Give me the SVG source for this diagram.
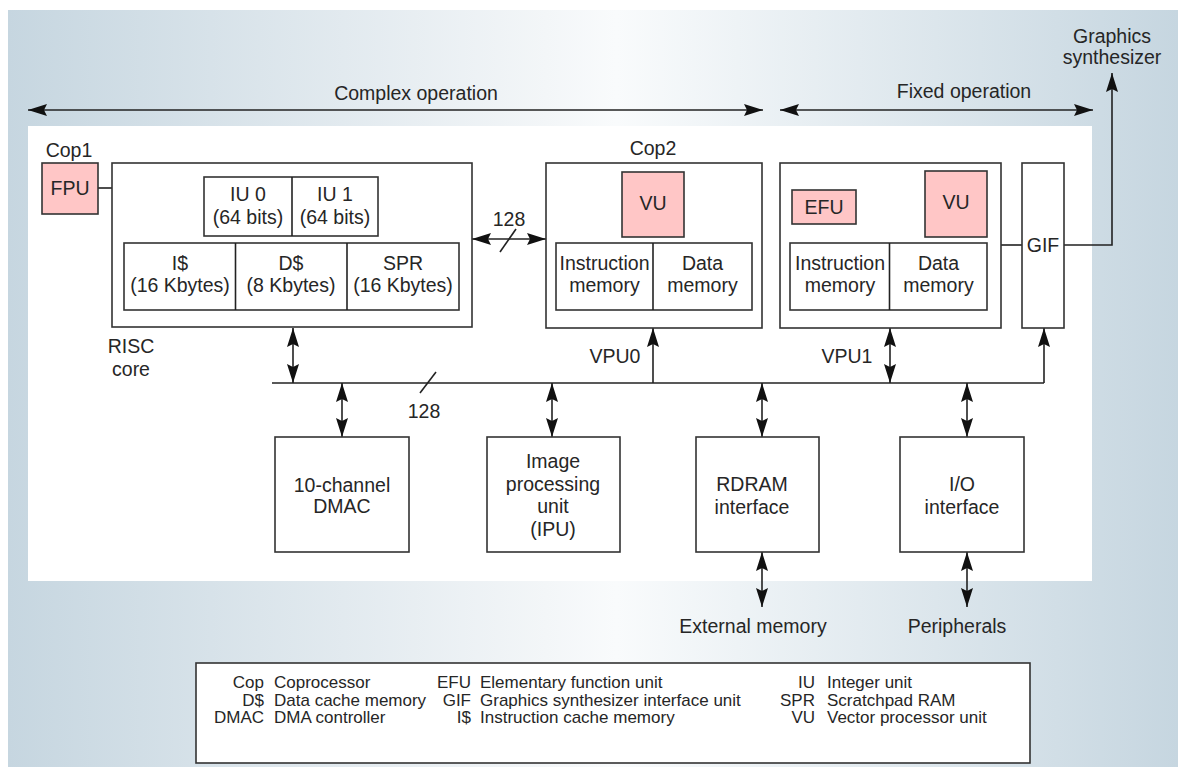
<svg xmlns="http://www.w3.org/2000/svg" width="1178" height="769" viewBox="0 0 1178 769">
<defs>
<linearGradient id="bg" x1="0" y1="0" x2="1" y2="0">
<stop offset="0" stop-color="#c6d6e0"/>
<stop offset="0.46" stop-color="#f3f6f8"/>
<stop offset="0.52" stop-color="#f9fbfc"/>
<stop offset="1" stop-color="#c6d6e0"/>
</linearGradient>
<marker id="ah" viewBox="-21 -7 23 14" refX="0" refY="0" markerWidth="23" markerHeight="14" markerUnits="userSpaceOnUse" orient="auto-start-reverse">
<path d="M0,0 L-19,-6 L-16,0 L-19,6 Z" fill="#111"/>
</marker>
</defs>
<style>
text{font-family:"Liberation Sans",Arial,sans-serif;font-size:19.5px;fill:#262626;}
.c{text-anchor:middle;}
.lg{font-size:17px;}
.r{text-anchor:end;}
.box{fill:#fff;stroke:#333;stroke-width:1.6;}
.pink{fill:#ffc6c6;stroke:#333;stroke-width:1.6;}
.ln{fill:none;stroke:#222;stroke-width:1.6;}
.a2{fill:none;stroke:#222;stroke-width:1.6;marker-start:url(#ah);marker-end:url(#ah);}
.a1{fill:none;stroke:#222;stroke-width:1.6;marker-end:url(#ah);}
</style>
<rect x="0" y="0" width="1178" height="769" fill="#fff"/>
<rect x="8" y="10" width="1170" height="757" fill="url(#bg)"/>
<rect x="28" y="126" width="1064" height="455" fill="#fff"/>

<g id="connectors">
<line class="a2" x1="28" y1="110" x2="763" y2="110"/>
<line class="a2" x1="780" y1="110" x2="1093" y2="110"/>
<polyline class="a1" points="1064,245 1112,245 1112,73"/>
<line class="ln" x1="98" y1="188" x2="112" y2="188"/>
<line class="a2" x1="472" y1="239" x2="546" y2="239"/>
<line class="ln" x1="516" y1="229" x2="500" y2="252"/>
<line class="ln" x1="1001" y1="245" x2="1022" y2="245"/>
<line class="ln" x1="272" y1="383" x2="1044" y2="383"/>
<line class="ln" x1="436" y1="372" x2="420" y2="393"/>
<line class="a2" x1="293" y1="328" x2="293" y2="383"/>
<line class="a1" x1="653" y1="383" x2="653" y2="328"/>
<line class="a2" x1="890" y1="328" x2="890" y2="383"/>
<line class="a1" x1="1044" y1="383" x2="1044" y2="328"/>
<line class="a2" x1="342" y1="383" x2="342" y2="437"/>
<line class="a2" x1="552" y1="383" x2="552" y2="437"/>
<line class="a2" x1="762" y1="383" x2="762" y2="437"/>
<line class="a2" x1="967" y1="383" x2="967" y2="437"/>
<line class="a2" x1="762" y1="552" x2="762" y2="607"/>
<line class="a2" x1="967" y1="552" x2="967" y2="607"/>
</g>

<g id="labels">
<text class="c" x="416" y="100">Complex operation</text>
<text class="c" x="964" y="98">Fixed operation</text>
<text class="c" x="1112" y="43">Graphics</text>
<text class="c" x="1112" y="64">synthesizer</text>
<text class="c" x="69" y="157">Cop1</text>
<text class="c" x="653" y="155">Cop2</text>
<text class="c" x="131" y="353">RISC</text>
<text class="c" x="131" y="376">core</text>
<text class="c" x="509" y="226">128</text>
<text class="c" x="424" y="418">128</text>
<text class="c" x="615" y="363">VPU0</text>
<text class="c" x="847" y="363">VPU1</text>
<text class="c" x="753" y="633">External memory</text>
<text class="c" x="957" y="633">Peripherals</text>
</g>

<g id="fpu">
<rect class="pink" x="42" y="163" width="56" height="51"/>
<text class="c" x="70" y="195">FPU</text>
</g>

<g id="risc">
<rect class="box" x="112" y="163" width="360" height="164"/>
<rect class="box" x="204" y="177" width="174" height="59"/>
<line class="ln" x1="292" y1="177" x2="292" y2="236"/>
<text class="c" x="248" y="201">IU 0</text>
<text class="c" x="248" y="224">(64 bits)</text>
<text class="c" x="335" y="201">IU 1</text>
<text class="c" x="335" y="224">(64 bits)</text>
<rect class="box" x="124" y="243" width="335" height="67"/>
<line class="ln" x1="235.5" y1="243" x2="235.5" y2="310"/>
<line class="ln" x1="347" y1="243" x2="347" y2="310"/>
<text class="c" x="180" y="270">I$</text>
<text class="c" x="180" y="292">(16 Kbytes)</text>
<text class="c" x="291" y="270">D$</text>
<text class="c" x="291" y="292">(8 Kbytes)</text>
<text class="c" x="403" y="270">SPR</text>
<text class="c" x="403" y="292">(16 Kbytes)</text>
</g>

<g id="vpu0">
<rect class="box" x="546" y="163" width="216" height="165"/>
<rect class="pink" x="622" y="172" width="62" height="65"/>
<text class="c" x="653" y="210">VU</text>
<rect class="box" x="556" y="243" width="196" height="67"/>
<line class="ln" x1="653" y1="243" x2="653" y2="310"/>
<text class="c" x="604.5" y="270">Instruction</text>
<text class="c" x="604.5" y="292">memory</text>
<text class="c" x="702.5" y="270">Data</text>
<text class="c" x="702.5" y="292">memory</text>
</g>

<g id="vpu1">
<rect class="box" x="780" y="163" width="221" height="165"/>
<rect class="pink" x="792" y="190" width="64" height="34"/>
<text class="c" x="824" y="214">EFU</text>
<rect class="pink" x="925" y="171" width="62" height="66"/>
<text class="c" x="956" y="209">VU</text>
<rect class="box" x="790" y="243" width="197" height="67"/>
<line class="ln" x1="889.5" y1="243" x2="889.5" y2="310"/>
<text class="c" x="840" y="270">Instruction</text>
<text class="c" x="840" y="292">memory</text>
<text class="c" x="938.5" y="270">Data</text>
<text class="c" x="938.5" y="292">memory</text>
</g>

<g id="gif">
<rect class="box" x="1022" y="163" width="42" height="165"/>
<text class="c" x="1043" y="252">GIF</text>
</g>

<g id="dmac">
<rect class="box" x="275" y="437" width="134" height="115"/>
<text class="c" x="342" y="492">10-channel</text>
<text class="c" x="342" y="513">DMAC</text>
</g>

<g id="ipu">
<rect class="box" x="487" y="437" width="133" height="115"/>
<text class="c" x="553" y="468">Image</text>
<text class="c" x="553" y="491">processing</text>
<text class="c" x="553" y="513">unit</text>
<text class="c" x="553" y="536">(IPU)</text>
</g>

<g id="rdram">
<rect class="box" x="696" y="437" width="123" height="115"/>
<text class="c" x="752" y="491">RDRAM</text>
<text class="c" x="752" y="514">interface</text>
</g>

<g id="io">
<rect class="box" x="900" y="437" width="124" height="115"/>
<text class="c" x="962" y="491">I/O</text>
<text class="c" x="962" y="514">interface</text>
</g>

<g id="legend">
<rect x="196" y="663" width="834" height="100" fill="#fff" stroke="#333" stroke-width="1.6"/>
<text class="lg r" x="264" y="688">Cop</text>
<text class="lg" x="274" y="688">Coprocessor</text>
<text class="lg r" x="264" y="706">D$</text>
<text class="lg" x="274" y="706">Data cache memory</text>
<text class="lg r" x="264" y="723">DMAC</text>
<text class="lg" x="274" y="723">DMA controller</text>
<text class="lg r" x="471" y="688">EFU</text>
<text class="lg" x="480" y="688">Elementary function unit</text>
<text class="lg r" x="471" y="706">GIF</text>
<text class="lg" x="480" y="706">Graphics synthesizer interface unit</text>
<text class="lg r" x="471" y="723">I$</text>
<text class="lg" x="480" y="723">Instruction cache memory</text>
<text class="lg r" x="815" y="688">IU</text>
<text class="lg" x="827" y="688">Integer unit</text>
<text class="lg r" x="815" y="706">SPR</text>
<text class="lg" x="827" y="706">Scratchpad RAM</text>
<text class="lg r" x="815" y="723">VU</text>
<text class="lg" x="827" y="723">Vector processor unit</text>
</g>
</svg>
